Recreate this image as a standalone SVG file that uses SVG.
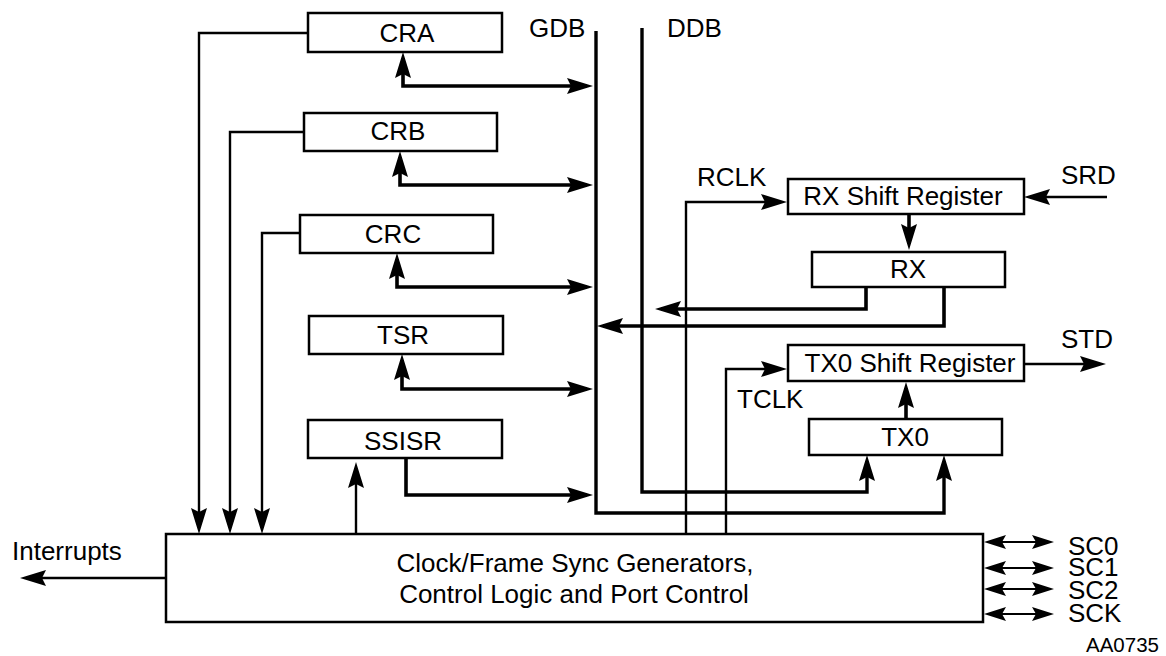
<svg xmlns="http://www.w3.org/2000/svg" width="1166" height="656" viewBox="0 0 1166 656">
<style>
.box{fill:#fff;stroke:#000;stroke-width:2.5}
.t{font-family:"Liberation Sans",Arial,sans-serif;font-size:26px;fill:#000}
.m{text-anchor:middle}
.thin{fill:none;stroke:#000;stroke-width:2.4}
.thick{fill:none;stroke:#000;stroke-width:3.6}
.bus{fill:none;stroke:#000;stroke-width:3.4}
.ah{marker-end:url(#a)}
.dh{marker-start:url(#a);marker-end:url(#a)}
.sc{fill:none;stroke:#000;stroke-width:2.2;marker-start:url(#s);marker-end:url(#s)}
</style>
<defs>
<marker id="a" viewBox="0 0 26 16" markerWidth="26" markerHeight="16" refX="20" refY="8" markerUnits="userSpaceOnUse" orient="auto-start-reverse">
<path d="M0,0 L26,8 L0,16 L4,8 Z" fill="#000"/>
</marker>
<marker id="s" viewBox="0 0 22 14" markerWidth="22" markerHeight="14" refX="17" refY="7" markerUnits="userSpaceOnUse" orient="auto-start-reverse">
<path d="M0,0 L22,7 L0,14 L4,7 Z" fill="#000"/>
</marker>
</defs>
<rect width="1166" height="656" fill="#fff"/>
<g id="connectors">
<path class="thin ah" d="M308,33 H199 V528"/>
<path class="thin ah" d="M304,132 H230 V528"/>
<path class="thin ah" d="M300,233 H262 V528"/>
<path class="thick dh" d="M403,58 V86 H587"/>
<path class="thick dh" d="M400,157 V185 H587"/>
<path class="thick dh" d="M397,259 V287 H587"/>
<path class="thick dh" d="M402,360 V389 H587"/>
<path class="thin ah" d="M356,534 V468"/>
<path class="thick ah" d="M406,458 V495 H587"/>
<path class="bus ah" d="M596,31 V513 H944 V461"/>
<path class="bus ah" d="M642,28 V492 H867 V461"/>
<path class="thick ah" d="M866,287 V309 H661"/>
<path class="thick ah" d="M944,287 V326 H603"/>
<path class="thin ah" d="M686,534 V202 H781"/>
<path class="thin ah" d="M726,534 V369 H781"/>
<path class="thin ah" d="M1107,197 H1030"/>
<path class="thick ah" d="M909,214 V244"/>
<path class="thick ah" d="M906,419 V388"/>
<path class="thin ah" d="M1024,364 H1100"/>
<path class="thin ah" d="M166,578 H26"/>
<path class="sc" d="M989,542 H1049"/>
<path class="sc" d="M989,568 H1049"/>
<path class="sc" d="M989,589 H1049"/>
<path class="sc" d="M989,614 H1049"/>
</g>
<g id="CRA"><rect class="box" x="308" y="13" width="194" height="39"/><text class="t m" x="407" y="42">CRA</text></g>
<g id="CRB"><rect class="box" x="304" y="113" width="193" height="38"/><text class="t m" x="398" y="140">CRB</text></g>
<g id="CRC"><rect class="box" x="300" y="215" width="193" height="38"/><text class="t m" x="393" y="243">CRC</text></g>
<g id="TSR"><rect class="box" x="309" y="316" width="194" height="38"/><text class="t m" x="403" y="344">TSR</text></g>
<g id="SSISR"><rect class="box" x="308" y="420" width="194" height="38"/><text class="t m" x="403" y="450">SSISR</text></g>
<g id="RXSR"><rect class="box" x="788" y="179" width="236" height="35"/><text class="t m" x="903" y="205">RX Shift Register</text></g>
<g id="RX"><rect class="box" x="812" y="252" width="193" height="35"/><text class="t m" x="908" y="278">RX</text></g>
<g id="TX0SR"><rect class="box" x="788" y="345" width="236" height="36"/><text class="t m" x="910" y="372">TX0 Shift Register</text></g>
<g id="TX0"><rect class="box" x="809" y="419" width="193" height="36"/><text class="t m" x="905" y="446">TX0</text></g>
<g id="control"><rect class="box" x="166" y="534" width="817" height="88"/><text class="t m" x="575" y="572">Clock/Frame Sync Generators,</text><text class="t m" x="574" y="603">Control Logic and Port Control</text></g>
<g id="labels">
<text class="t" x="529" y="37">GDB</text>
<text class="t" x="667" y="37">DDB</text>
<text class="t" x="697" y="186">RCLK</text>
<text class="t" x="1061" y="184">SRD</text>
<text class="t" x="1061" y="348">STD</text>
<text class="t" x="737" y="408">TCLK</text>
<text class="t" x="12" y="560">Interrupts</text>
<text class="t" x="1068" y="555"><tspan x="1068" y="555">SC0</tspan><tspan x="1068" y="576">SC1</tspan><tspan x="1068" y="599">SC2</tspan><tspan x="1068" y="622">SCK</tspan></text>
<text class="t" x="1086" y="652" style="font-size:20.5px">AA0735</text>
</g>
</svg>
